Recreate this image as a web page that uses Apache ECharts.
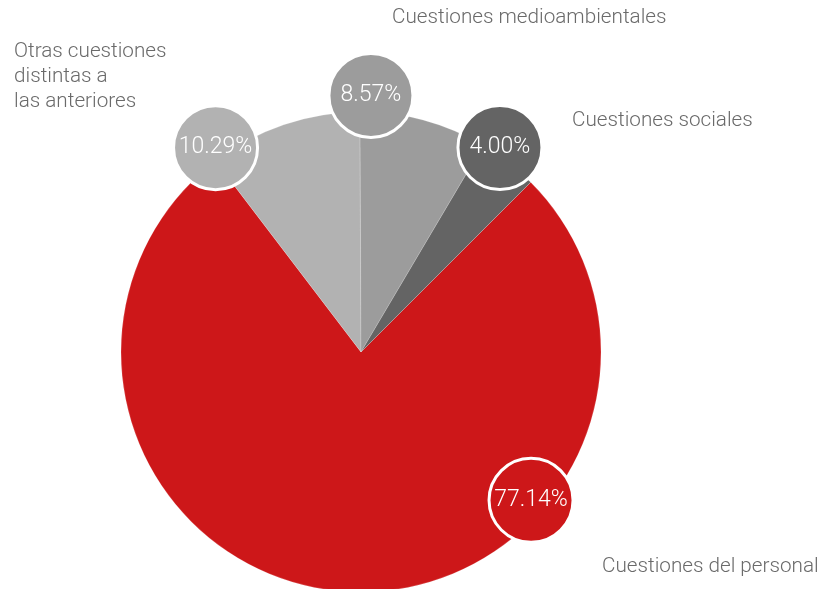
<!DOCTYPE html>
<html>
<head>
<meta charset="utf-8">
<script src="https://cdn.jsdelivr.net/npm/echarts@6/dist/echarts.min.js"></script>
<style>
  html, body { margin: 0; padding: 0; background: #ffffff; }
  #chart { width: 823px; height: 589px; }
</style>
</head>
<body>
<div id="chart"></div>
<script>
// Share of each topic (%)
const categories = [
  'Cuestiones del personal',
  'Otras cuestiones distintas a las anteriores',
  'Cuestiones medioambientales',
  'Cuestiones sociales'
];
const shares = [77.14, 10.29, 8.57, 4.00];
// Category names as they are broken into lines on the page
const nameLines = [
  ['Cuestiones del personal'],
  ['Otras cuestiones', 'distintas a', 'las anteriores'],
  ['Cuestiones medioambientales'],
  ['Cuestiones sociales']
];

// Styling and placement
const colors = ['#cd1719', '#b2b2b2', '#9c9c9c', '#646464'];
const CX = 361, CY = 352, R = 240, START = 45;
// value bubble: fraction along its slice, distance from centre relative to the radius
const bubbleAlong = [0.31, 0.05, 0.08, 0.25];
const bubbleDist = [0.94, 1.045, 1.07, 1.03];
// polar grid reaches a bit past the pie so the outer bubbles fit on it
const POLAR_EXT = 1.25;
// name text: left edge, centre of first line
const namePos = [[602, 567], [14, 52], [392, 18], [572, 121]];

const FONT = 'Roboto, "Noto Sans", sans-serif';

const pieData = categories.map((c, i) => ({
  name: c,
  value: shares[i],
  itemStyle: { color: colors[i] }
}));

// Bubble positions on a polar grid laid over the pie (angle axis in % of the circle)
let cum = 0;
const bubbleData = shares.map((v, i) => {
  const a = cum + bubbleAlong[i] * v;
  cum += v;
  return {
    value: [bubbleDist[i], a],
    share: v,
    itemStyle: { color: colors[i] }
  };
});

const textEls = nameLines.map((lines, i) => ({
  type: 'text',
  x: namePos[i][0],
  y: namePos[i][1] - 12.5,
  silent: true,
  style: {
    text: lines.join('\n'),
    fill: '#6a6a6a',
    fontSize: 20.7,
    fontFamily: FONT,
    fontWeight: 300,
    lineHeight: 25,
    align: 'left',
    verticalAlign: 'top'
  }
}));

const chart = echarts.init(document.getElementById('chart'), null, { renderer: 'canvas' });
chart.setOption({
  animation: false,
  backgroundColor: '#ffffff',
  polar: { center: [CX, CY], radius: R * POLAR_EXT },
  angleAxis: {
    type: 'value', min: 0, max: 100, startAngle: START, clockwise: true,
    show: false, axisLine: { show: false }, splitLine: { show: false },
    axisTick: { show: false }, axisLabel: { show: false }
  },
  radiusAxis: {
    type: 'value', min: 0, max: POLAR_EXT, show: false,
    axisLine: { show: false }, splitLine: { show: false },
    axisTick: { show: false }, axisLabel: { show: false }
  },
  graphic: textEls,
  series: [
    {
      type: 'pie',
      center: [CX, CY],
      radius: R,
      startAngle: START,
      clockwise: true,
      silent: true,
      label: { show: false },
      labelLine: { show: false },
      itemStyle: { borderColor: 'rgba(255,255,255,0.35)', borderWidth: 0.5 },
      data: pieData,
      z: 2
    },
    {
      type: 'scatter',
      coordinateSystem: 'polar',
      clip: false,
      symbol: 'circle',
      symbolSize: 84,
      silent: true,
      z: 5,
      itemStyle: { borderColor: '#ffffff', borderWidth: 3, opacity: 1 },
      label: {
        show: true,
        position: 'inside',
        color: '#ffffff',
        fontSize: 23,
        fontFamily: FONT,
        fontWeight: 300,
        formatter: p => p.data.share.toFixed(2) + '%'
      },
      data: bubbleData
    }
  ]
});
</script>
</body>
</html>
